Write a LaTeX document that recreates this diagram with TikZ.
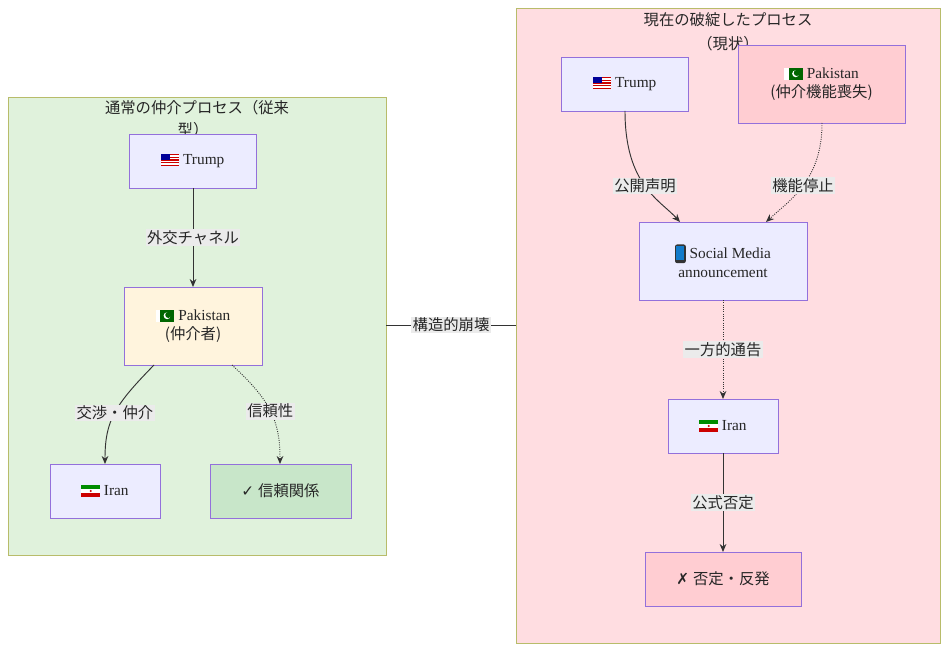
\documentclass[tikz,border=0pt]{standalone}
\usepackage{fontspec}
\setmainfont{Liberation Serif}
\newfontfamily\jpf{Noto Sans CJK JP}
\newfontfamily\djv{DejaVu Sans}
\newcommand{\jp}[1]{{\jpf #1}}
\usetikzlibrary{arrows.meta}
\newcommand{\flagUS}{\tikz[baseline=-0.7ex,x=1pt,y=1pt]{\fill[red!80!black](-7,-4.5) rectangle (7,4.5);\foreach \i in {-3,-1,1,3}{\fill[white](-7,\i-0.5) rectangle (7,\i+0.5);}\fill[blue!60!black](-7,0) rectangle (0,4.5);}}
\newcommand{\flagPK}{\tikz[baseline=-0.7ex,x=1pt,y=1pt]{\fill[green!40!black](-7,-4.5) rectangle (7,4.5);\fill[white](-7,-4.5) rectangle (-3.5,4.5);\fill[white](1.5,0) circle (2.6);\fill[green!40!black](2.4,0.6) circle (2.3);}}
\newcommand{\flagIR}{\tikz[baseline=-0.7ex,x=1pt,y=1pt]{\fill[green!55!black](-7,1.5) rectangle (7,4.5);\fill[white](-7,-1.5) rectangle (7,1.5);\fill[red!80!black](-7,-4.5) rectangle (7,-1.5);\fill[red!80!black](0,0) circle (0.9);}}
\newcommand{\phoneicon}{\tikz[baseline=-0.7ex,x=1pt,y=1pt]{\fill[black!80,rounded corners=1.5pt](-4,-7) rectangle (4,7);\fill[cyan!60!blue](-3,-5) rectangle (3,5.5);}}
\definecolor{nodefill}{HTML}{ECECFF}
\definecolor{nodeborder}{HTML}{9370DB}
\definecolor{clborder}{HTML}{B8BC6A}
\begin{document}
\begin{tikzpicture}[x=0.75pt,y=-0.75pt,
  box/.style={draw=nodeborder,fill=nodefill,line width=0.6pt},
  cl/.style={draw=clborder,line width=0.6pt},
  lbl/.style={fill=black!8,inner sep=1pt,font=\jpf\fontsize{11.5}{13}\selectfont,text=black!85},
  edge/.style={draw=black!80,line width=0.7pt,-{Stealth[length=6pt,width=5pt]}},
  txt/.style={font=\fontsize{11.5}{14}\selectfont,align=center,text=black!85}]
\useasboundingbox (0,0) rectangle (948,652);
% clusters
\draw[cl,fill={rgb,255:red,224;green,242;blue,220}] (8,97) rectangle (386,555);
\draw[cl,fill={rgb,255:red,255;green,221;blue,225}] (516,8) rectangle (940,643);
\node[txt,font=\jpf\fontsize{11.5}{14}\selectfont] (t1) at (197,108) {通常の仲介プロセス（従来};
\node[txt,font=\jpf\fontsize{11.5}{14}\selectfont] (t1b) at (193,130) {型）};
\node[txt,font=\jpf\fontsize{11.5}{14}\selectfont] (t2) at (728,20) {現在の破綻したプロセス};
\node[txt,font=\jpf\fontsize{11.5}{14}\selectfont] (t2b) at (728,44) {（現状）};
% left nodes
\draw[box] (129,134) rectangle (256,188); \node[txt] (lt) at (192.5,161) {\flagUS\ Trump};
\draw[box,fill={rgb,255:red,255;green,244;blue,221}] (124,287) rectangle (262,365);
\node[txt] (lp) at (193,326) {\flagPK\ Pakistan\\\jp{(仲介者)}};
\draw[box] (50,464) rectangle (160,518); \node[txt] (li) at (105,491) {\flagIR\ Iran};
\draw[box,fill={rgb,255:red,200;green,230;blue,201}] (210,464) rectangle (351,518);
\node[txt] (lr) at (280.5,491) {{\djv ✓} \jp{信頼関係}};
% right nodes
\draw[box] (561,57) rectangle (688,111); \node[txt] (rt) at (624.5,84) {\flagUS\ Trump};
\draw[box,fill={rgb,255:red,255;green,205;blue,210}] (738,45) rectangle (905,123);
\node[txt] (rp) at (821.5,84) {\flagPK\ Pakistan\\\jp{(仲介機能喪失)}};
\draw[box] (639,222) rectangle (807,300);
\node[txt] (rs) at (723,261) {\phoneicon\ Social Media\\announcement};
\draw[box] (668,399) rectangle (778,453); \node[txt] (ri) at (723,426) {\flagIR\ Iran};
\draw[box,fill={rgb,255:red,255;green,205;blue,210}] (645,552) rectangle (801,606);
\node[txt] (rd) at (723,579) {{\djv ✗} \jp{否定・反発}};
% coordinates for edge ends
\coordinate (a1) at (193,188); \coordinate (a2) at (193,287);
\coordinate (b1) at (154,365); \coordinate (b2) at (105,464);
\coordinate (c1) at (232,365); \coordinate (c2) at (280,464);
\coordinate (d1) at (625,111); \coordinate (d2) at (680,222);
\coordinate (e1) at (822,123); \coordinate (e2) at (766,222);
\coordinate (f1) at (723,300); \coordinate (f2) at (723,399);
\coordinate (g1) at (723,453); \coordinate (g2) at (723,552);
\coordinate (h1) at (386,325); \coordinate (h2) at (516,325);
% edges
\draw[edge] (a1) -- node[lbl]{外交チャネル} (a2);
\draw[edge] (b1) .. controls (115,405) and (105,420) .. node[lbl,pos=0.5]{交渉・仲介} (b2);
\draw[edge,densely dotted] (c1) .. controls (270,400) and (280,420) .. node[lbl,pos=0.5]{信頼性} (c2);
\draw[edge] (d1) .. controls (625,185) and (660,200) .. node[lbl,pos=0.5]{公開声明} (d2);
\draw[edge,densely dotted] (e1) .. controls (822,180) and (790,200) .. node[lbl,pos=0.5]{機能停止} (e2);
\draw[edge,densely dotted] (f1) -- node[lbl]{一方的通告} (f2);
\draw[edge] (g1) -- node[lbl]{公式否定} (g2);
\draw[draw=black!80,line width=0.7pt] (h1) -- node[lbl]{構造的崩壊} (h2);
\end{tikzpicture}
\end{document}
